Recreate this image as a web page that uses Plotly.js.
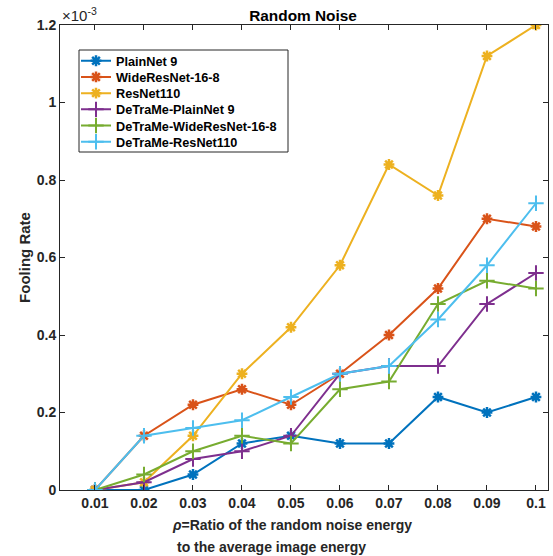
<!DOCTYPE html>
<html>
<head>
<meta charset="utf-8">
<script src="https://cdn.plot.ly/plotly-3.0.1.min.js"></script>
<style>html,body{margin:0;padding:0;background:#fff;}#chart{width:553px;height:556px;}</style>
</head>
<body>
<div id="chart"></div>
<script>
// x values: rho
const rho = [0.01, 0.02, 0.03, 0.04, 0.05, 0.06, 0.07, 0.08, 0.09, 0.1];
const xTickLabels = ['0.01','0.02','0.03','0.04','0.05','0.06','0.07','0.08','0.09','0.1'];
const yTickVals = [0, 0.2, 0.4, 0.6, 0.8, 1, 1.2];
const yTickLabels = ['0','0.2','0.4','0.6','0.8','1','1.2'];
// fooling rates, in units of 1e-3
const plainNet9 = [0, 0, 0.04, 0.12, 0.14, 0.12, 0.12, 0.24, 0.20, 0.24];
const wideResNet = [0, 0.14, 0.22, 0.26, 0.22, 0.30, 0.40, 0.52, 0.70, 0.68];
const resNet110 = [0, 0.02, 0.14, 0.30, 0.42, 0.58, 0.84, 0.76, 1.12, 1.20];
const detramePlainNet = [0, 0.02, 0.08, 0.10, 0.14, 0.30, 0.32, 0.32, 0.48, 0.56];
const detrameWide = [0, 0.04, 0.10, 0.14, 0.12, 0.26, 0.28, 0.48, 0.54, 0.52];
const detrameResNet = [0, 0.14, 0.16, 0.18, 0.24, 0.30, 0.32, 0.44, 0.58, 0.74];
const names = ['PlainNet 9','WideResNet-16-8','ResNet110','DeTraMe-PlainNet 9','DeTraMe-WideResNet-16-8','DeTraMe-ResNet110'];
const series = [plainNet9, wideResNet, resNet110, detramePlainNet, detrameWide, detrameResNet];
const colors = ['#0072BD','#D95319','#EDB120','#7E2F8E','#77AC30','#4DBEEE'];
const symbols = ['asterisk-open','asterisk-open','asterisk-open','cross-thin-open','cross-thin-open','cross-thin-open'];

const legendIds = ['legend','legend2','legend3','legend4','legend5','legend6'];
const traces = series.map((ys, i) => ({
  x: rho, y: ys, name: names[i], type: 'scatter', mode: 'lines+markers',
  legend: legendIds[i],
  line: {color: colors[i], width: 2},
  marker: {symbol: symbols[i], size: i < 3 ? 9 : 11, color: colors[i], line: {color: colors[i], width: i < 3 ? 2.5 : 2}}
}));

const font = {family: 'Liberation Sans, Arial, sans-serif', color: '#262626'};
// plot area geometry (pixels) for legend placement
const plotTop = 25, plotH = 465, plotL = 60, plotW = 488;
const rowY0 = 61, rowStep = 16.2;

const layout = {
  width: 553, height: 556,
  margin: {l: plotL, r: 553 - plotL - plotW, t: plotTop, b: 556 - plotTop - plotH},
  paper_bgcolor: '#fff', plot_bgcolor: '#fff',
  font: Object.assign({}, font, {size: 14}),
  title: {text: '<b>Random Noise</b>', font: Object.assign({}, font, {size: 15.4, color: '#000'}), x: 0.548, xanchor: 'center', y: 0.972, yanchor: 'middle'},
  xaxis: {
    range: [0.00286, 0.10245], tickvals: rho, ticktext: xTickLabels.map(t => '<b>' + t + '</b>'),
    ticks: 'inside', ticklen: 5, tickcolor: '#262626', showline: true, linecolor: '#262626', linewidth: 1,
    mirror: 'ticks', showgrid: false, zeroline: false, tickfont: Object.assign({}, font, {size: 14})
  },
  yaxis: {
    range: [0, 1.2], tickvals: yTickVals,
    ticktext: yTickLabels.map(t => '<b>' + t + '</b>'),
    ticks: 'inside', ticklen: 5, tickcolor: '#262626', showline: true, linecolor: '#262626', linewidth: 1,
    mirror: 'ticks', showgrid: false, zeroline: false, tickfont: Object.assign({}, font, {size: 14}),
    title: {text: '<b>Fooling Rate</b>', font: Object.assign({}, font, {size: 15}), standoff: 2}
  },
  showlegend: true,
  shapes: [
    {type: 'rect', xref: 'paper', yref: 'paper', layer: 'above',
     x0: (79 - plotL) / plotW, x1: (288 - plotL) / plotW,
     y0: (plotTop + plotH - 152) / plotH, y1: (plotTop + plotH - 50) / plotH,
     line: {color: '#262626', width: 1}, fillcolor: 'rgba(0,0,0,0)'}
  ],
  annotations: [
    {text: '×10<sup>-3</sup>', xref: 'paper', yref: 'paper', x: 0, y: 1, xanchor: 'left', yanchor: 'bottom', showarrow: false, font: Object.assign({}, font, {size: 15}), yshift: -1},
    {text: '<b><i>ρ</i>=Ratio of the random noise energy</b>', xref: 'paper', yref: 'paper', x: 0.225, y: 0, yshift: -35, xanchor: 'left', yanchor: 'middle', showarrow: false, font: Object.assign({}, font, {size: 14})},
    {text: '<b>to the average image energy</b>', xref: 'paper', yref: 'paper', x: 0.236, y: 0, yshift: -57, xanchor: 'left', yanchor: 'middle', showarrow: false, font: Object.assign({}, font, {size: 14})}
  ]
};
legendIds.forEach((id, i) => {
  const rowY = rowY0 + i * rowStep;
  layout[id] = {
    x: (76 - plotL) / plotW, y: (plotTop + plotH - rowY) / plotH,
    xanchor: 'left', yanchor: 'middle',
    bgcolor: 'rgba(0,0,0,0)', borderwidth: 0,
    font: Object.assign({}, font, {size: 12.7, color: '#000', weight: 'bold'}),
    itemwidth: 30
  };
});
Plotly.newPlot('chart', traces, layout, {displayModeBar: false, staticPlot: true});
</script>
</body>
</html>
